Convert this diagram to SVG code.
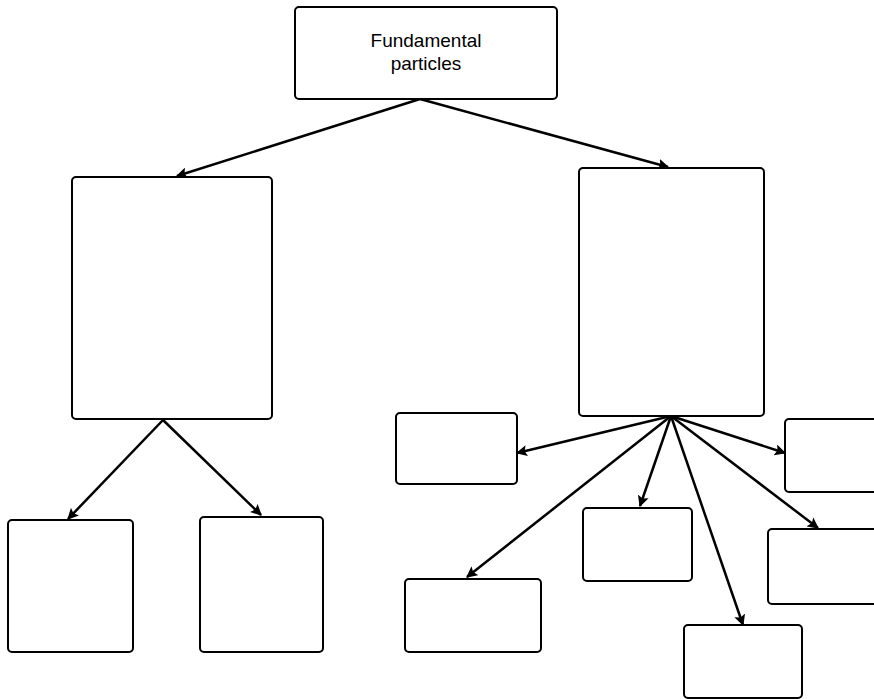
<svg xmlns="http://www.w3.org/2000/svg" width="874" height="699" viewBox="0 0 874 699">
<style>
.box{fill:#fff;stroke:#000;stroke-width:2}
.con{stroke:#000;stroke-width:2.5;fill:none;marker-end:url(#ah)}
.lbl{font-family:"Liberation Sans",Arial,sans-serif;font-size:19px;fill:#000;text-anchor:middle}
</style>
<defs>
<marker id="ah" viewBox="0 0 10 10" refX="9" refY="5" markerWidth="4.5" markerHeight="4.5" orient="auto" markerUnits="strokeWidth">
<path d="M0,0 L10,5 L0,10 L2,5 z" fill="#000"/>
</marker>
</defs>
<rect width="874" height="699" fill="#fff"/>
<g id="connectors">
<line class="con" x1="420" y1="99" x2="177" y2="176"/>
<line class="con" x1="420" y1="99" x2="668" y2="167"/>
<line class="con" x1="163" y1="420" x2="68" y2="519"/>
<line class="con" x1="163" y1="420" x2="261" y2="515"/>
<line class="con" x1="671" y1="416" x2="517" y2="453"/>
<line class="con" x1="671" y1="416" x2="467" y2="577"/>
<line class="con" x1="671" y1="416" x2="640" y2="506"/>
<line class="con" x1="671" y1="416" x2="743" y2="625"/>
<line class="con" x1="671" y1="416" x2="818" y2="528"/>
<line class="con" x1="671" y1="416" x2="785" y2="453"/>
</g>
<g id="root">
<rect class="box" x="295" y="7" width="262" height="92" rx="4"/>
<text class="lbl" x="426" y="47">Fundamental</text>
<text class="lbl" x="426" y="70">particles</text>
</g>
<g id="left"><rect class="box" x="72" y="177" width="200" height="242" rx="4"/></g>
<g id="right"><rect class="box" x="579" y="168" width="185" height="248" rx="4"/></g>
<g id="ll"><rect class="box" x="8" y="520" width="125" height="132" rx="4"/></g>
<g id="lr"><rect class="box" x="200" y="517" width="123" height="135" rx="4"/></g>
<g id="ra"><rect class="box" x="396" y="413" width="121" height="71" rx="4"/></g>
<g id="rb"><rect class="box" x="405" y="579" width="136" height="73" rx="4"/></g>
<g id="rc"><rect class="box" x="583" y="508" width="109" height="73" rx="4"/></g>
<g id="rd"><rect class="box" x="684" y="625" width="118" height="73" rx="4"/></g>
<g id="re"><rect class="box" x="768" y="529" width="112" height="75" rx="4"/></g>
<g id="rf"><rect class="box" x="785" y="419" width="95" height="73" rx="4"/></g>
</svg>
